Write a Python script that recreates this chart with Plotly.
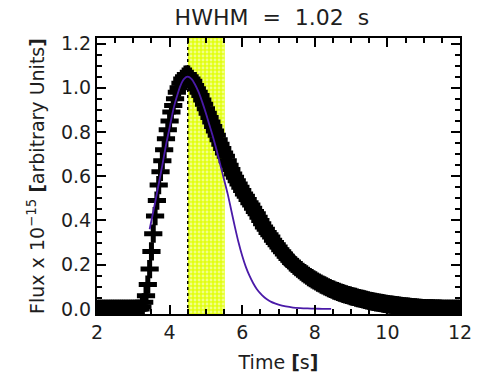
import numpy as np
import plotly.graph_objects as go

# ---- data ----
T_START = 2.0
T_STEP = 0.05
FLUX = [
    # 2.00-2.95
    0, 0, 0, 0, 0, 0, 0, 0, 0, 0, 0, 0, 0, 0, 0, 0, 0, 0, 0, 0,
    # 3.00-3.95
    0, 0, 0, 0, 0.00, 0.01, 0.03, 0.06, 0.11, 0.18,
    0.26, 0.34, 0.42, 0.49, 0.56, 0.62, 0.67, 0.72, 0.77, 0.81,
    # 4.00-4.95
    0.85, 0.89, 0.92, 0.95, 0.98, 1.00, 1.02, 1.04, 1.05, 1.06,
    1.06, 1.05, 1.04, 1.03, 1.01, 0.995, 0.98, 0.965, 0.945, 0.925,
    # 5.00-5.95
    0.905, 0.885, 0.865, 0.845, 0.825, 0.805, 0.785, 0.765, 0.745, 0.725,
    0.705, 0.69, 0.67, 0.65, 0.63, 0.61, 0.595, 0.58, 0.565, 0.55,
    # 6.00-6.95
    0.535, 0.52, 0.51, 0.495, 0.48, 0.47, 0.455, 0.44, 0.43, 0.415,
    0.40, 0.385, 0.37, 0.36, 0.345, 0.335, 0.325, 0.31, 0.30, 0.29,
    # 7.00-7.95
    0.28, 0.268, 0.258, 0.248, 0.238, 0.228, 0.22, 0.21, 0.203, 0.196,
    0.189, 0.182, 0.175, 0.168, 0.162, 0.156, 0.15, 0.144, 0.139, 0.134,
    # 8.00-8.95
    0.129, 0.124, 0.119, 0.115, 0.11, 0.106, 0.102, 0.098, 0.094, 0.09,
    0.087, 0.083, 0.08, 0.077, 0.074, 0.071, 0.068, 0.066, 0.063, 0.061,
    # 9.00-9.95
    0.058, 0.056, 0.054, 0.051, 0.049, 0.047, 0.045, 0.043, 0.041, 0.039,
    0.037, 0.035, 0.033, 0.032, 0.03, 0.029, 0.027, 0.026, 0.024, 0.023,
    # 10.00-10.95
    0.022, 0.02, 0.019, 0.018, 0.017, 0.016, 0.015, 0.014, 0.013, 0.012,
    0.011, 0.01, 0.009, 0.008, 0.007, 0.007, 0.006, 0.005, 0.005, 0.004,
    # 11.00-11.95
    0.004, 0.003, 0.003, 0.002, 0.002, 0.002, 0.001, 0.001, 0.001, 0.001,
    0, 0, 0, 0, 0, 0, 0, 0, 0, 0,
    # 12.00
    0,
]
TIME = [round(T_START + T_STEP * i, 2) for i in range(len(FLUX))]

MODEL_T = [3.45, 3.5, 3.6, 3.7, 3.8, 3.9, 4.0, 4.1, 4.2, 4.3, 4.4, 4.5,
           4.6, 4.7, 4.8, 4.9, 5.0, 5.1, 5.2, 5.3, 5.4, 5.5, 5.6, 5.7,
           5.8, 5.9, 6.0, 6.1, 6.2, 6.3, 6.4, 6.5, 6.6, 6.7, 6.8, 6.9,
           7.0, 7.2, 7.4, 7.6, 7.8, 8.0, 8.2, 8.45]
MODEL_F = [0.36, 0.40, 0.48, 0.565, 0.65, 0.74, 0.82, 0.90, 0.96, 1.01, 1.04, 1.05,
           1.04, 1.015, 0.98, 0.935, 0.885, 0.83, 0.775, 0.715, 0.65, 0.585, 0.52, 0.445,
           0.37, 0.30, 0.24, 0.19, 0.15, 0.117, 0.09, 0.07, 0.054, 0.042, 0.032, 0.025,
           0.019, 0.011, 0.006, 0.0035, 0.002, 0.001, 0.0005, 0.0]

PEAK_T = 4.5
HWHM = 1.02
X_RANGE = [2, 12]
Y_RANGE = [-0.023, 1.225]
X_TICKS = [2, 4, 6, 8, 10, 12]
Y_TICKS = [0.0, 0.2, 0.4, 0.6, 0.8, 1.0, 1.2]
Y_TICK_TEXT = ["0.0", "0.2", "0.4", "0.6", "0.8", "1.0", "1.2"]

FONT = "DejaVu Sans"
TXT = "#1e1e1e"

fig = go.Figure()

# HWHM band (yellow hatched)
fig.add_trace(go.Scatter(
    x=[PEAK_T, PEAK_T + HWHM, PEAK_T + HWHM, PEAK_T, PEAK_T],
    y=[Y_RANGE[0], Y_RANGE[0], Y_RANGE[1], Y_RANGE[1], Y_RANGE[0]],
    mode="lines", line=dict(width=0), fill="toself",
    fillcolor="#e4ff1a",
    fillpattern=dict(shape=".", fgcolor="white", bgcolor="#e2ff10",
                     size=4, solidity=0.4),
    hoverinfo="skip", showlegend=False,
))

# peak marker line
fig.add_trace(go.Scatter(
    x=[PEAK_T, PEAK_T], y=[Y_RANGE[0], Y_RANGE[1]],
    mode="lines", line=dict(color="black", width=1.5, dash="dot"),
    showlegend=False, hoverinfo="skip",
))

# data
fig.add_trace(go.Scatter(
    x=TIME, y=FLUX, mode="markers",
    marker=dict(symbol="cross-thin", size=13, color="black", opacity=1,
                line=dict(width=5, color="black")),
    showlegend=False,
))

# model
fig.add_trace(go.Scatter(
    x=MODEL_T, y=MODEL_F, mode="lines",
    line=dict(color="#4a1aa8", width=1.8, shape="spline", smoothing=0.8),
    showlegend=False,
))

axis_common = dict(
    showline=True, linecolor="black", linewidth=2, mirror="allticks",
    ticks="inside", ticklen=9, tickwidth=1.5, tickcolor="black",
    showgrid=False, zeroline=False,
    tickfont=dict(family=FONT, size=19, color=TXT),
)

fig.update_xaxes(
    range=X_RANGE, tickvals=X_TICKS,
    minor=dict(ticks="inside", dtick=0.5, ticklen=5, tickwidth=1.5, tickcolor="black"),
    title=dict(text="Time <b>[</b>s<b>]</b>", font=dict(family=FONT, size=19, color=TXT),
               standoff=14),
    **axis_common,
)
fig.update_yaxes(
    range=Y_RANGE, tickvals=Y_TICKS, ticktext=Y_TICK_TEXT,
    minor=dict(ticks="inside", dtick=0.05, ticklen=5, tickwidth=1.5, tickcolor="black"),
    title=dict(text="Flux x 10<sup>−15</sup> <b>[</b>arbitrary Units<b>]</b>",
               font=dict(family=FONT, size=19, color=TXT), standoff=11),
    **axis_common,
)

fig.update_layout(
    width=490, height=383,
    margin=dict(l=97, r=30, t=38, b=69),
    paper_bgcolor="white", plot_bgcolor="white",
    title=dict(text="HWHM\u00a0\u00a0=\u00a0\u00a01.02\u00a0\u00a0s", x=0.555, xanchor="center",
               y=0.955, yanchor="middle",
               font=dict(family=FONT, size=22, color=TXT)),
)

fig.write_html("out.html")
